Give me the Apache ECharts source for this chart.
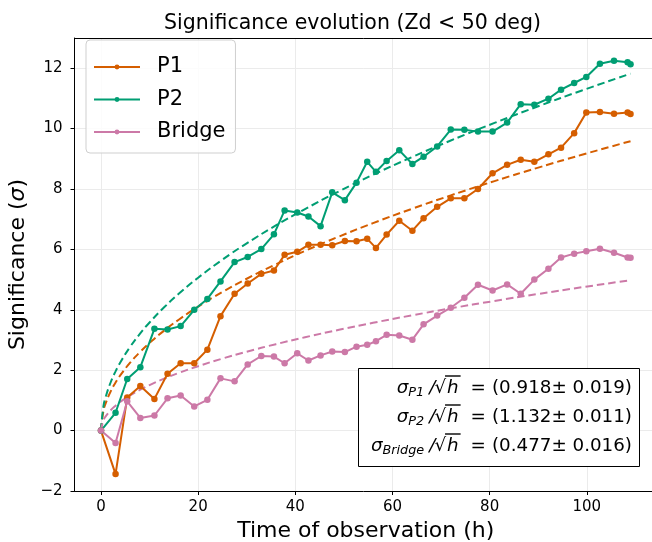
<!DOCTYPE html>
<html>
<head>
<meta charset="utf-8">
<script src="https://cdn.jsdelivr.net/npm/echarts@6/dist/echarts.min.js"></script>
<style>
html,body{margin:0;padding:0;background:#fff;}
#chart{width:652px;height:542px;}
</style>
</head>
<body>
<div id="chart"></div>
<script>
// ---- data ----
const hours = [0, 3.0, 5.4, 8.1, 11.0, 13.7, 16.4, 19.2, 21.9, 24.6, 27.5, 30.2, 33.0, 35.6, 37.8, 40.4, 42.7, 45.2, 47.6, 50.2, 52.6, 54.8, 56.6, 58.8, 61.4, 64.1, 66.4, 69.2, 72.0, 74.8, 77.6, 80.6, 83.6, 86.4, 89.2, 92.1, 94.7, 97.4, 99.9, 102.7, 105.6, 108.4, 109.0];
const p1 = [0, -1.44, 1.10, 1.48, 1.05, 1.88, 2.23, 2.23, 2.68, 3.79, 4.53, 4.87, 5.19, 5.30, 5.82, 5.92, 6.15, 6.15, 6.14, 6.28, 6.27, 6.35, 6.05, 6.49, 6.95, 6.62, 7.03, 7.41, 7.69, 7.69, 8.00, 8.52, 8.80, 8.97, 8.90, 9.15, 9.37, 9.85, 10.53, 10.55, 10.49, 10.53, 10.48];
const p2 = [0, 0.59, 1.71, 2.10, 3.37, 3.35, 3.46, 4.00, 4.36, 4.94, 5.58, 5.75, 6.01, 6.50, 7.29, 7.22, 7.09, 6.77, 7.89, 7.63, 8.21, 8.90, 8.57, 8.93, 9.28, 8.83, 9.07, 9.41, 9.97, 9.96, 9.90, 9.90, 10.20, 10.81, 10.79, 10.99, 11.29, 11.51, 11.71, 12.15, 12.25, 12.20, 12.13];
const bridge = [0, -0.41, 0.97, 0.42, 0.50, 1.07, 1.16, 0.80, 1.02, 1.73, 1.63, 2.19, 2.47, 2.45, 2.23, 2.56, 2.32, 2.49, 2.62, 2.60, 2.78, 2.84, 2.96, 3.17, 3.15, 3.01, 3.52, 3.81, 4.07, 4.40, 4.83, 4.64, 4.84, 4.53, 5.00, 5.36, 5.73, 5.86, 5.94, 6.02, 5.89, 5.73, 5.72];

// fitted sqrt(h) curves (dashed), sampled values
const fitHours = [0, 0.5, 1, 2, 3, 4, 6, 8, 10, 13, 16, 20, 25, 30, 36, 42, 49, 56, 64, 72, 81, 90, 99, 109];
const fitP1 = [0, 0.649, 0.918, 1.298, 1.590, 1.836, 2.249, 2.596, 2.903, 3.310, 3.672, 4.105, 4.590, 5.028, 5.508, 5.949, 6.426, 6.870, 7.344, 7.789, 8.262, 8.709, 9.134, 9.584];
const fitP2 = [0, 0.800, 1.132, 1.601, 1.961, 2.264, 2.773, 3.202, 3.580, 4.082, 4.528, 5.063, 5.660, 6.200, 6.792, 7.336, 7.924, 8.471, 9.056, 9.605, 10.188, 10.739, 11.263, 11.818];
const fitBridge = [0, 0.337, 0.477, 0.675, 0.826, 0.954, 1.168, 1.349, 1.508, 1.720, 1.908, 2.133, 2.385, 2.613, 2.862, 3.091, 3.339, 3.570, 3.816, 4.048, 4.293, 4.525, 4.746, 4.980];

const seriesNames = ['P1', 'P2', 'Bridge'];
const subNames = ['P1', 'P2', 'Bridge'];
const fitTexts = ['0.918± 0.019', '1.132± 0.011', '0.477± 0.016'];
const yTicks = [-2, 0, 2, 4, 6, 8, 10, 12];
const xTicks = [0, 20, 40, 60, 80, 100];
const titleText = 'Significance evolution (Zd < 50 deg)';

// ---- build ----
const colors = ['#d55e00', '#009e73', '#cc79a7'];
const FONT = '"DejaVu Sans", sans-serif';
const pair = (xs, ys) => xs.map((x, i) => [x, ys[i]]);

const chart = echarts.init(document.getElementById('chart'), null, {renderer: 'canvas'});

const dataSeries = [p1, p2, bridge].map((vals, i) => ({
  name: seriesNames[i],
  type: 'line',
  data: pair(hours, vals),
  symbol: 'circle',
  symbolSize: 6.5,
  showSymbol: true,
  lineStyle: {width: 2, color: colors[i]},
  itemStyle: {color: colors[i]},
  z: 3,
  animation: false
}));
const fitSeries = [fitP1, fitP2, fitBridge].map((vals, i) => ({
  name: seriesNames[i] + ' fit',
  type: 'line',
  data: pair(fitHours, vals),
  smooth: true,
  symbol: 'none',
  lineStyle: {width: 2, color: colors[i], type: [7.5, 4]},
  itemStyle: {color: colors[i]},
  z: 2,
  animation: false
}));

// text-box layout (bottom right)
const TB = 18.3, SUB = 12.8;
const cv = document.createElement('canvas').getContext('2d');
function tw(text, size, italic) {
  cv.font = (italic ? 'italic ' : '') + size + 'px "DejaVu Sans"';
  return cv.measureText(text).width;
}
const graphics = [];
const boxRight = 632, lineYs = [388, 417, 446];
graphics.push({
  type: 'rect', shape: {x: 358.5, y: 368.5, width: 281, height: 98},
  style: {fill: '#fff', stroke: '#000', lineWidth: 1}, z: 10
});
// top spine of the axes frame (right spine lies outside the picture)
graphics.push({
  type: 'line', shape: {x1: 74.5, y1: 38.5, x2: 652, y2: 38.5},
  style: {stroke: '#000', lineWidth: 1}, z: 5
});
function txt(text, x, y, size, italic) {
  graphics.push({
    type: 'text', x: x, y: y, z: 11,
    style: {text: text, fill: '#000', font: (italic ? 'italic ' : '') + size + 'px "DejaVu Sans"',
            align: 'right', verticalAlign: 'middle', textAlign: 'right', textVerticalAlign: 'middle'}
  });
}
subNames.forEach((s, i) => {
  const y = lineYs[i];
  let x = boxRight;
  const paren = '(' + fitTexts[i] + ')';
  txt(paren, x, y, TB, false);
  x -= tw(paren, TB, false) + 6;
  txt('=', x, y, TB, false);
  x -= tw('=', TB, false) + 12;
  txt('h', x, y, TB, true);
  const hw = tw('h', TB, true);
  graphics.push({type: 'line', shape: {x1: x - hw - 2, y1: y - 12, x2: x + 2, y2: y - 12},
    style: {stroke: '#000', lineWidth: 1.4}, z: 11});
  x -= hw + 1;
  txt('√', x, y, TB, false);
  x -= tw('√', TB, false) - 1;
  txt('/', x, y, TB, true);
  x -= tw('/', TB, true) + 5;
  txt(s, x, y + 5, SUB, true);
  x -= tw(s, SUB, true);
  txt('σ', x, y, TB, true);
});

const option = {
  animation: false,
  backgroundColor: '#fff',
  textStyle: {fontFamily: FONT},
  title: {
    text: titleText, left: 347.5, top: 8, textAlign: 'center',
    textStyle: {fontFamily: FONT, fontSize: 20.5, fontWeight: 'normal', color: '#000'}
  },
  legend: {
    data: seriesNames,
    orient: 'vertical',
    left: 86, top: 40,
    itemWidth: 46, itemHeight: 6,
    itemGap: 8.5,
    padding: [15, 10, 9, 7],
    backgroundColor: 'rgba(255,255,255,0.85)',
    borderColor: '#cfcfcf', borderWidth: 1, borderRadius: 4,
    textStyle: {fontFamily: FONT, fontSize: 21, color: '#000', lineHeight: 24, padding: [0, 0, 0, 12]},
    z: 12
  },
  grid: {left: 74.5, right: -5, top: 38, bottom: 51, containLabel: false, outerBoundsMode: 'none',
    show: false},
  xAxis: {
    type: 'value', min: -5.45, max: 114.45, minInterval: 20, maxInterval: 20, splitNumber: 6,
    name: 'Time of observation (h)', nameLocation: 'middle', nameGap: 28,
    nameTextStyle: {fontFamily: FONT, fontSize: 22, color: '#000'},
    axisLine: {show: true, onZero: false, lineStyle: {color: '#000', width: 1}},
    axisTick: {show: true, inside: false, length: 4, lineStyle: {color: '#000'}},
    axisLabel: {showMinLabel: false, showMaxLabel: false, margin: 9, fontFamily: FONT, fontSize: 15, color: '#000',
      formatter: v => (xTicks.indexOf(v) >= 0 ? String(v) : '')},
    splitLine: {show: true, lineStyle: {color: '#ebebeb', width: 1}}
  },
  yAxis: {
    type: 'value', min: -2, max: 13, minInterval: 2, maxInterval: 2, splitNumber: 7,
    name: '{a|Significance (}{b|σ}{a|)}', nameLocation: 'middle', nameGap: 37, nameRotate: 90,
    nameTextStyle: {rich: {a: {fontFamily: FONT, fontSize: 22, color: '#000'}, b: {fontFamily: FONT, fontSize: 22, fontStyle: 'italic', color: '#000'}}},
    axisLine: {show: true, onZero: false, lineStyle: {color: '#000', width: 1}},
    axisTick: {show: true, inside: false, length: 4, lineStyle: {color: '#000'}},
    axisLabel: {showMaxLabel: false, margin: 12, fontFamily: FONT, fontSize: 15, color: '#000',
      formatter: v => (yTicks.indexOf(v) >= 0 ? (v < 0 ? '\u2212' + Math.abs(v) : String(v)) : '')},
    splitLine: {show: true, lineStyle: {color: '#ebebeb', width: 1}}
  },
  series: dataSeries.concat(fitSeries),
  graphic: graphics
};
chart.setOption(option);
</script>
</body>
</html>
